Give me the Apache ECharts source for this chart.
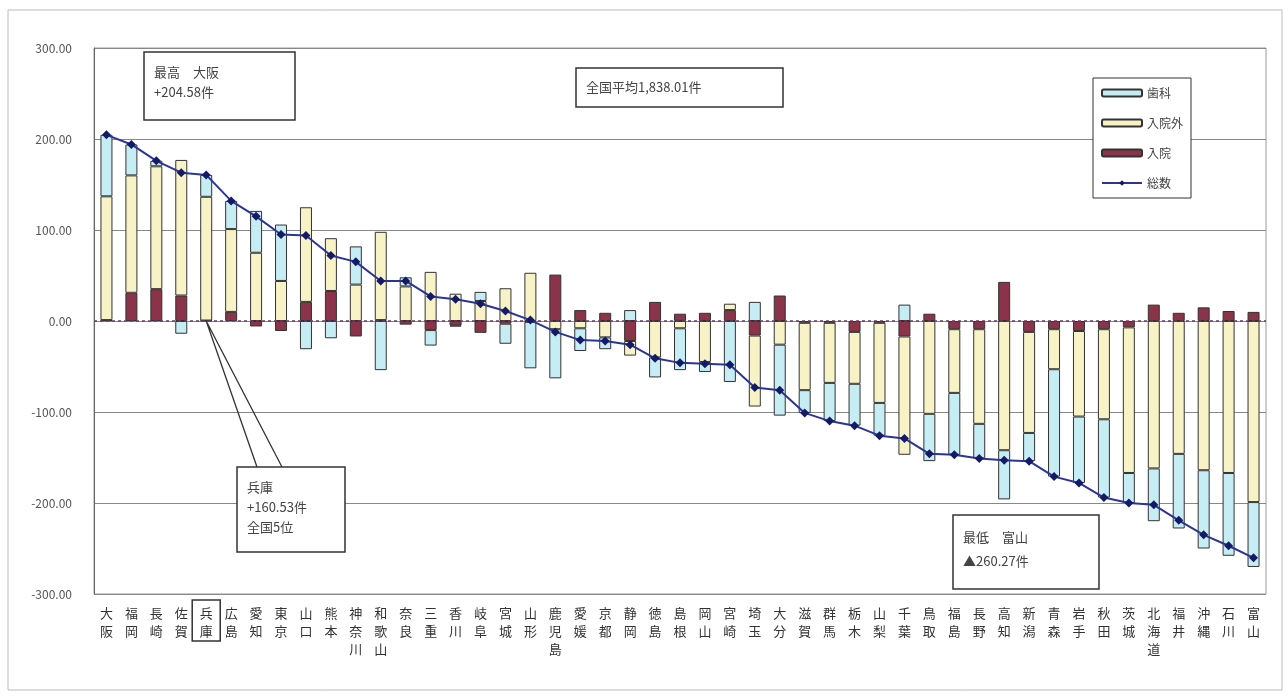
<!DOCTYPE html>
<html>
<head>
<meta charset="utf-8">
<script src="https://cdn.jsdelivr.net/npm/echarts@6/dist/echarts.min.js"></script>
<style>
    html, body { margin: 0; padding: 0; background: #fff; }
    #chart { width: 1288px; height: 697px; }
</style>
</head>
<body>
<div id="chart"></div>
<script>
    // 都道府県（全国平均との差の大きい順）
    const prefs = ['大阪','福岡','長崎','佐賀','兵庫','広島','愛知','東京','山口','熊本','神奈川','和歌山','奈良','三重','香川','岐阜','宮城','山形','鹿児島','愛媛','京都','静岡','徳島','島根','岡山','宮崎','埼玉','大分','滋賀','群馬','栃木','山梨','千葉','鳥取','福島','長野','高知','新潟','青森','岩手','秋田','茨城','北海道','福井','沖縄','石川','富山'];

    const nyuin = [1, 31, 35, 28, 0.5, 10, -6, -11, 21, 33, -17, 1, -4, -10, -5, -13, -3, -1, 51, 12, 9, -22, 21, 8, 9, 12, -16, 28, -2, -2, -12, -2, -17, 8, -9, -9, 43, -12, -9, -11, -9, -7, 18, 9, 15, 11, 10];
    const nyuingai = [136, 129, 135, 149, 136, 91, 75, 44, 104, 58, 40, 97, 38, 54, 30, 22, 36, 53, -9, -8, -18, -16, -40, -8, -45, 7, -78, -26, -74, -66, -57, -88, -130, -102, -70, -104, -142, -111, -44, -94, -99, -160, -162, -146, -164, -167, -199];
    const shika = [67.58, 34, 6, -14, 24.03, 31, 46, 62, -31, -19, 42, -54, 10, -17, -1, 10, -22, -51, -54, -25, -13, 12, -22, -46, -11, -67, 21, -78, -25, -42, -46, -36, 18, -52, -68, -38, -54, -31, -118, -73, -86, -33, -58, -82, -86, -91, -71.27];
    const total = [204.58, 194, 176, 163, 160.53, 132, 115, 95, 94, 72, 65, 44, 44, 27, 24, 19, 11, 1, -12, -21, -22, -26, -41, -46, -47, -48, -73, -76, -101, -110, -115, -126, -129, -146, -147, -151, -153, -154, -171, -178, -194, -200, -202, -219, -235, -247, -260.27];

    const yTicks = [-300, 300, 100]; // min, max, interval

    const FONT = "'Noto Sans CJK JP', 'Noto Sans', sans-serif";
    const colors = {
        shika: '#c6ecf4',
        gai: '#f8f3c6',
        in: '#8a3349',
        line: '#2b3598',
        dot: '#141a66'
    };

    const barStyle = color => ({ color, borderColor: '#333', borderWidth: 1 });

    let chart = echarts.init(document.getElementById('chart'));

    let option = {
        animation: false,
        textStyle: { fontFamily: FONT },
        grid: { left: 94, right: 22, top: 48, bottom: 103, show: true, borderColor: '#9a9a9a', borderWidth: 1 },
        legend: {
            orient: 'vertical',
            left: 1093,
            top: 78,
            width: 114,
            padding: [9, 8, 9, 8],
            itemGap: 18,
            itemWidth: 40,
            itemHeight: 7,
            borderColor: '#333',
            borderWidth: 1,
            backgroundColor: '#fff',
            textStyle: { fontSize: 12, color: '#444', fontFamily: FONT },
            data: ['歯科', '入院外', '入院', '総数']
        },
        xAxis: {
            type: 'category',
            data: prefs,
            position: 'bottom',
            axisLine: { onZero: false, show: false },
            axisTick: { show: false },
            axisLabel: {
                interval: 0,
                margin: 10,
                fontSize: 13,
                lineHeight: 18,
                color: '#333',
                verticalAlign: 'top',
                formatter: v => v.split('').join('\n')
            }
        },
        yAxis: {
            type: 'value',
            min: yTicks[0],
            max: yTicks[1],
            interval: yTicks[2],
            axisLine: { show: true, lineStyle: { color: '#666' } },
            axisTick: { show: false },
            axisLabel: {
                margin: 22,
                fontSize: 12,
                color: '#555',
                formatter: v => v.toFixed(2)
            },
            splitLine: { lineStyle: { color: '#888', width: 1.2 } }
        },
        series: [
            {
                name: '入院', type: 'bar', stack: 'd', barWidth: 12,
                itemStyle: barStyle(colors.in), data: nyuin, z: 2
            },
            {
                name: '入院外', type: 'bar', stack: 'd', barWidth: 12,
                itemStyle: barStyle(colors.gai), data: nyuingai, z: 2
            },
            {
                name: '歯科', type: 'bar', stack: 'd', barWidth: 12,
                itemStyle: barStyle(colors.shika), data: shika, z: 2
            },
            {
                name: '総数', type: 'line', data: total, z: 5,
                symbol: 'diamond', symbolSize: 9,
                lineStyle: { color: colors.line, width: 2 },
                itemStyle: { color: colors.dot },
                markLine: {
                    silent: true, symbol: 'none', label: { show: false },
                    lineStyle: { color: '#6a3a62', type: [3, 3], width: 1.5 },
                    data: [{ yAxis: 0 }]
                }
            }
        ]
    };

    chart.setOption(option);

    // 注記（兵庫の吹き出し位置はバーから求める）
    const anchor = chart.convertToPixel({ seriesIndex: 0 }, ['兵庫', 0]);
    const labelBox = (x, y, w, h, lines, lh) => ({
        type: 'group',
        children: [
            { type: 'rect', shape: { x, y, width: w, height: h }, style: { fill: '#fff', stroke: '#333', lineWidth: 1.5 }, z: 10 },
            { type: 'text', x: x + 10, y: y + 10, z: 11, style: { text: lines.join('\n'), font: `13px ${FONT}`, fill: '#444', lineHeight: lh } }
        ]
    });

    chart.setOption({
        graphic: [
            { type: 'rect', shape: { x: 8, y: 10, width: 1274, height: 680 }, style: { fill: 'none', stroke: '#bbb', lineWidth: 1 }, silent: true },
            labelBox(144, 52, 151, 68, ['最高　大阪', '+204.58件'], 20),
            labelBox(576, 68, 207, 39, ['全国平均1,838.01件'], 18),
            labelBox(953, 515, 146, 74, ['最低　富山', '▲260.27件'], 24),
            { type: 'polyline', shape: { points: [[257, 467], [anchor[0], anchor[1]], [282, 467]] }, style: { stroke: '#333', lineWidth: 1.3, fill: 'none' }, z: 9 },
            labelBox(237, 467, 108, 85, ['兵庫', '+160.53件', '全国5位'], 20),
            { type: 'rect', shape: { x: anchor[0] - 14, y: 600, width: 28, height: 41 }, style: { fill: 'none', stroke: '#333', lineWidth: 1.5 }, z: 9 }
        ]
    });
</script>
</body>
</html>
